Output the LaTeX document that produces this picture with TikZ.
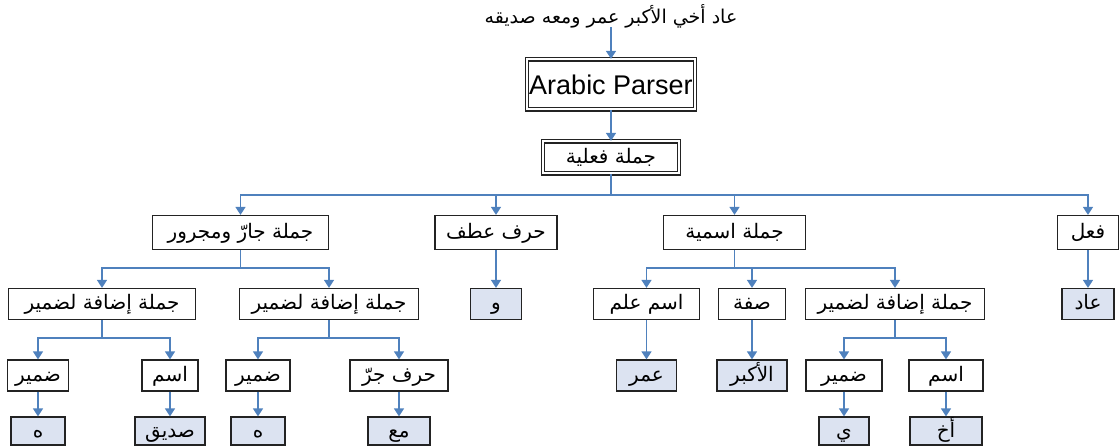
\documentclass[tikz,border=0pt]{standalone}
\usepackage{fontspec}
\setmainfont{Liberation Sans}
\newfontfamily\arabicfont[Script=Arabic]{DejaVu Sans}
\usetikzlibrary{arrows.meta}
\TeXXeTstate=1
\definecolor{linkblue}{RGB}{79,129,189}
\definecolor{leaffill}{RGB}{220,227,241}
\definecolor{boxline}{RGB}{35,35,35}
\newcommand{\artxt}[1]{{\arabicfont\beginR #1\endR}}

\begin{document}
\begin{tikzpicture}[x=1pt, y=-1pt,
    box/.style={draw=boxline, line width=1.2pt, fill=white, minimum height=31pt, inner sep=2pt, text height=15pt, text depth=3pt, font=\fontsize{20}{24}\selectfont},
    leaf/.style={box, fill=leaffill},
    dbox/.style={box, double=white, double distance=2pt, line width=1.3pt},
    arr/.style={draw=linkblue, line width=1.4pt, -{Triangle[length=8pt, width=10pt]}}]
            \useasboundingbox (0,0) rectangle (1119,446);

            %sentence and parser
            \node[font=\fontsize{19}{22}\selectfont, text height=14pt, text depth=2pt, inner sep=1pt] (sent) at (611,18) {\artxt{عاد أخي الأكبر عمر ومعه صديقه}};
            \node[dbox, minimum width=168pt, minimum height=50pt, text height=20pt, text depth=0pt, font=\fontsize{27}{30}\selectfont] (parser) at (611,84.5) {Arabic Parser};
            \node[dbox, minimum width=136pt, minimum height=32pt] (fil) at (611,157.5) {\artxt{جملة فعلية}};

            %first level
            \node[box, minimum width=176pt, minimum height=34pt] (jar) at (240.5,232.5) {\artxt{جملة جارّ ومجرور}};
            \node[box, minimum width=122pt, minimum height=34pt] (atf) at (496,232.5) {\artxt{حرف عطف}};
            \node[box, minimum width=142pt, minimum height=34pt] (ism) at (734.5,232.5) {\artxt{جملة اسمية}};
            \node[box, minimum width=61pt, minimum height=34pt] (fal) at (1088,232.5) {\artxt{فعل}};

            %second level
            \node[box, minimum width=187pt] (idafa1) at (102,304) {\artxt{جملة إضافة لضمير}};
            \node[box, minimum width=179pt] (idafa2) at (329,304) {\artxt{جملة إضافة لضمير}};
            \node[leaf, minimum width=51pt] (waw) at (496,304) {\artxt{و}};
            \node[box, minimum width=106pt] (alam) at (646.5,304) {\artxt{اسم علم}};
            \node[box, minimum width=67pt] (sifa) at (752,304) {\artxt{صفة}};
            \node[box, minimum width=179pt] (idafa3) at (895,304) {\artxt{جملة إضافة لضمير}};
            \node[leaf, minimum width=52pt] (aad) at (1088,304) {\artxt{عاد}};

            %third level
            \node[box, minimum width=61pt] (dam1) at (38,375.5) {\artxt{ضمير}};
            \node[box, minimum width=56pt] (ism1) at (170,375.5) {\artxt{اسم}};
            \node[box, minimum width=64pt] (dam2) at (258,375.5) {\artxt{ضمير}};
            \node[box, minimum width=98pt] (harf) at (399,375.5) {\artxt{حرف جرّ}};
            \node[leaf, minimum width=60pt] (amr) at (646.5,375.5) {\artxt{عمر}};
            \node[leaf, minimum width=70pt] (akbar) at (752,375.5) {\artxt{الأكبر}};
            \node[box, minimum width=76pt] (dam3) at (844,375.5) {\artxt{ضمير}};
            \node[box, minimum width=74pt] (ism3) at (946,375.5) {\artxt{اسم}};

            %leaves
            \node[leaf, minimum width=54pt, minimum height=28pt] (ha1) at (38,431) {\artxt{ه}};
            \node[leaf, minimum width=70pt, minimum height=28pt] (sadiq) at (170,431) {\artxt{صديق}};
            \node[leaf, minimum width=54pt, minimum height=28pt] (ha2) at (258,431) {\artxt{ه}};
            \node[leaf, minimum width=62pt, minimum height=28pt] (maa) at (399,431) {\artxt{مع}};
            \node[leaf, minimum width=50pt, minimum height=28pt] (ya) at (844,431) {\artxt{ي}};
            \node[leaf, minimum width=72pt, minimum height=28pt] (akh) at (946,431) {\artxt{أخ}};

            %branch points
            \coordinate (fork0) at (611,195);
            \coordinate (forkjar) at (240.5,268);
            \coordinate (forkism) at (734.5,268);
            \coordinate (forkid1) at (102,338);
            \coordinate (forkid2) at (329,338);
            \coordinate (forkid3) at (895,338);

            \draw[arr] (sent) -- (parser);
            \draw[arr] (parser) -- (fil);

            \draw[arr] (fil.south) -- (fork0) -| (jar.north);
            \draw[arr] (fil.south) -- (fork0) -| (atf.north);
            \draw[arr] (fil.south) -- (fork0) -| (ism.north);
            \draw[arr] (fil.south) -- (fork0) -| (fal.north);

            \draw[arr] (jar.south) -- (forkjar) -| (idafa1.north);
            \draw[arr] (jar.south) -- (forkjar) -| (idafa2.north);
            \draw[arr] (atf) -- (waw);
            \draw[arr] (ism.south) -- (forkism) -| (alam.north);
            \draw[arr] (ism.south) -- (forkism) -| (sifa.north);
            \draw[arr] (ism.south) -- (forkism) -| (idafa3.north);
            \draw[arr] (fal) -- (aad);

            \draw[arr] (idafa1.south) -- (forkid1) -| (dam1.north);
            \draw[arr] (idafa1.south) -- (forkid1) -| (ism1.north);
            \draw[arr] (idafa2.south) -- (forkid2) -| (dam2.north);
            \draw[arr] (idafa2.south) -- (forkid2) -| (harf.north);
            \draw[arr] (alam) -- (amr);
            \draw[arr] (sifa) -- (akbar);
            \draw[arr] (idafa3.south) -- (forkid3) -| (dam3.north);
            \draw[arr] (idafa3.south) -- (forkid3) -| (ism3.north);

            \draw[arr] (dam1) -- (ha1);
            \draw[arr] (ism1) -- (sadiq);
            \draw[arr] (dam2) -- (ha2);
            \draw[arr] (harf) -- (maa);
            \draw[arr] (dam3) -- (ya);
            \draw[arr] (ism3) -- (akh);

        \end{tikzpicture}
\end{document}
